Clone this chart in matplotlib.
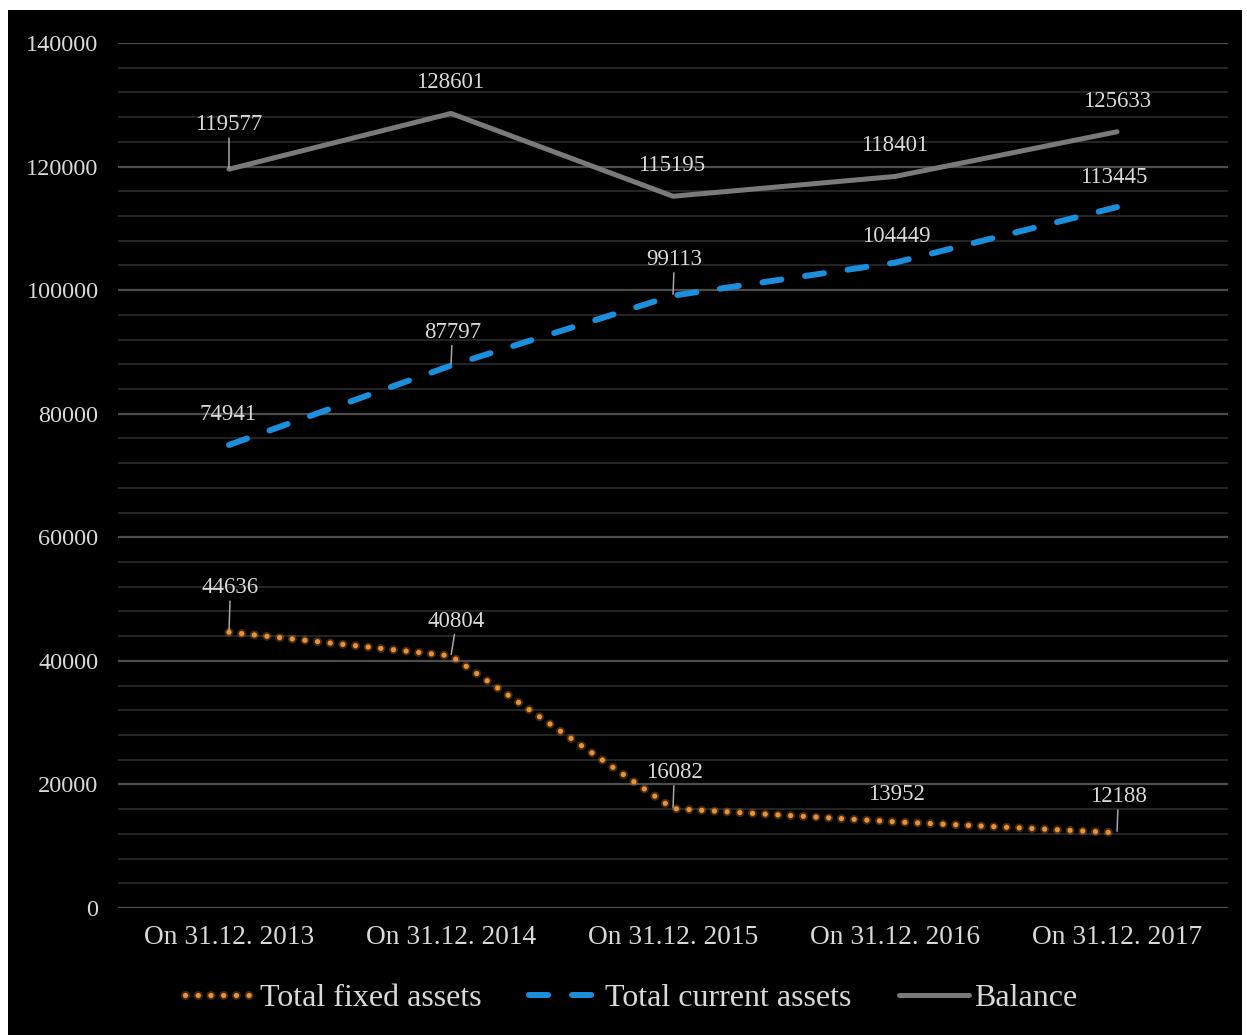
import matplotlib
matplotlib.use("Agg")
import matplotlib.pyplot as plt
import matplotlib.patheffects as pe
from matplotlib.patches import Rectangle
from matplotlib.ticker import MultipleLocator

plt.rcParams['font.family'] = ['Liberation Serif', 'DejaVu Serif']

# balance sheet totals, thousands
periods = ['On 31.12. 2013', 'On 31.12. 2014', 'On 31.12. 2015',
           'On 31.12. 2016', 'On 31.12. 2017']
fixed_assets = [44636, 40804, 16082, 13952, 12188]
current_assets = [74941, 87797, 99113, 104449, 113445]
balance = [119577, 128601, 115195, 118401, 125633]

# label offsets above each point (points); taller ones get a leader line
fixed_off = [(1, 32), (4, 25), (1, 26), (1, 20), (1, 26)]
current_off = [(-1, 22), (1, 24), (1, 26), (1, 19), (-2, 21)]
balance_off = [(0, 32), (-1, 22), (-1, 22), (0, 22), (0, 22)]

text_col = '#d9d9d9'
x = list(range(len(periods)))

fig = plt.figure(figsize=(12.47, 10.35), dpi=100, facecolor='white')
fig.patches.append(Rectangle((8 / 1247, 0), 1234 / 1247, 1 - 10 / 1035,
                             transform=fig.transFigure, facecolor='black',
                             edgecolor='none', zorder=-10))

ax = fig.add_axes([118 / 1247, 1 - 908 / 1035, 1110 / 1247, 865 / 1035])
ax.set_facecolor('black')
ax.set_xlim(-0.5, 4.5)
ax.set_ylim(0, 140000)
ax.yaxis.set_major_locator(MultipleLocator(20000))
ax.yaxis.set_minor_locator(MultipleLocator(4000))
ax.grid(which='major', axis='y', color='#4d4d4d', lw=1.6, zorder=0)
ax.grid(which='minor', axis='y', color='#242424', lw=1.4, zorder=0)
for s in ax.spines.values():
    s.set_visible(False)
ax.tick_params(which='both', length=0)
ax.tick_params(axis='y', labelsize=17.5, labelcolor=text_col, pad=14)
ax.tick_params(axis='x', labelsize=19.7, labelcolor=text_col, pad=12)
ax.set_xticks(x)
ax.set_xticklabels(periods)

# fixed assets: orange round dots with a soft glow
glow = [pe.Stroke(linewidth=6.5, foreground='#e08a2e', alpha=0.3), pe.Normal()]
ln_fixed, = ax.plot(x, fixed_assets, color='#e8913a', lw=3.8,
                    linestyle=(0, (0.01, 2.4)), dash_capstyle='round',
                    zorder=4, label='Total fixed assets', path_effects=glow)
ln_cur, = ax.plot(x, current_assets, color='#1b8fdc', lw=4.3,
                  linestyle=(0, (3.2, 4.0)), dash_capstyle='round',
                  zorder=4, label='Total current assets')
ln_bal, = ax.plot(x, balance, color='#7a7a7a', lw=3.6,
                  solid_capstyle='round', zorder=4, label='Balance')


def label_points(values, offsets):
    for xi, v, (dx, dy) in zip(x, values, offsets):
        leader = dy >= 24
        ax.annotate(str(v), (xi, v), xytext=(dx, dy),
                    textcoords='offset points', ha='center', va='center',
                    fontsize=16.5, color=text_col, zorder=6,
                    arrowprops=dict(arrowstyle='-', color='#a6a6a6', lw=1.1,
                                    shrinkA=0, shrinkB=1) if leader else None)


label_points(fixed_assets, fixed_off)
label_points(current_assets, current_off)
label_points(balance, balance_off)

fig.legend(handles=[ln_fixed, ln_cur, ln_bal], loc='center',
           bbox_to_anchor=(0.506, 1 - 998 / 1035), ncol=3,
           frameon=False, fontsize=23, labelcolor=text_col,
           handlelength=2.2, handletextpad=0.15, columnspacing=1.5)

fig.savefig('out.png', dpi=100, facecolor=fig.get_facecolor())
